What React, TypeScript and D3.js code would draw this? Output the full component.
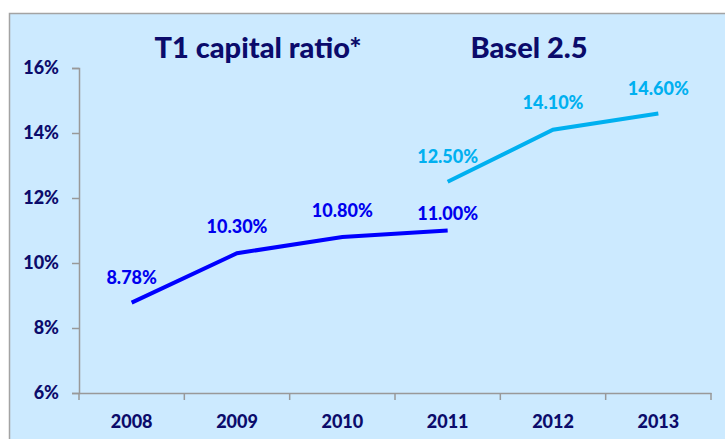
import React, { useEffect, useRef } from "react";
import * as d3 from "d3";

const years = ["2008", "2009", "2010", "2011", "2012", "2013"];
const t1Years = ["2008", "2009", "2010", "2011"];
const t1Values = [8.78, 10.3, 10.8, 11.0];
const baselYears = ["2011", "2012", "2013"];
const baselValues = [12.5, 14.1, 14.6];
const yTicks = [6, 8, 10, 12, 14, 16];

const W = 725;
const H = 439;
const FONT = "Lato, 'Open Sans', sans-serif";
const NAVY = "#0b0b6b";

const App = () => {
  const svgRef = useRef<SVGSVGElement>(null);

  useEffect(() => {
    const svg = d3.select(svgRef.current);
    svg.selectAll("*").remove();

    const margin = { top: 68, right: 14, bottom: 46, left: 79 };

    // fondo y borde
    svg
      .append("rect")
      .attr("x", 9.5)
      .attr("y", 13.5)
      .attr("width", W + 20)
      .attr("height", H + 20)
      .attr("fill", "#cceaff")
      .attr("stroke", "#a3a3a3")
      .attr("stroke-width", 1.5);

    const x = d3
      .scaleBand()
      .domain(years)
      .range([margin.left, W - margin.right]);
    const y = d3
      .scaleLinear()
      .domain([6, 16])
      .range([H - margin.bottom, margin.top]);

    // eje Y
    const gy = svg
      .append("g")
      .attr("transform", `translate(${margin.left},0)`)
      .call(
        d3
          .axisLeft(y)
          .tickValues(yTicks)
          .tickFormat((d) => `${d}%`)
          .tickSizeOuter(0)
          .tickSize(7)
          .tickPadding(13)
      );
    gy.selectAll("line").attr("stroke", "#999").attr("stroke-width", 1.5);
    gy.select(".domain").attr("stroke", "#999").attr("stroke-width", 1.5);
    gy.selectAll("text")
      .attr("fill", NAVY)
      .style("font-family", FONT)
      .style("font-weight", "900")
      .style("font-size", "18px");

    // eje X
    const gx = svg
      .append("g")
      .attr("transform", `translate(0,${H - margin.bottom})`)
      .call(d3.axisBottom(x).tickSize(0).tickSizeOuter(0).tickPadding(22));
    gx.select(".domain").attr("stroke", "#999").attr("stroke-width", 1.5);
    gx.selectAll("text")
      .attr("fill", NAVY)
      .style("font-family", FONT)
      .style("font-weight", "900")
      .style("font-size", "18px");
    const bounds = years.map((d) => x(d)!).concat([x.range()[1]]);
    gx.selectAll(".sep")
      .data(bounds)
      .enter()
      .append("line")
      .attr("x1", (d) => d)
      .attr("x2", (d) => d)
      .attr("y1", 0)
      .attr("y2", 7)
      .attr("stroke", "#999")
      .attr("stroke-width", 1.5);

    const cx = (d: string) => x(d)! + x.bandwidth() / 2;

    const drawSeries = (
      cats: string[],
      vals: number[],
      lineColor: string,
      textColor: string,
      offsets: number[]
    ) => {
      const pts = cats.map((c, i) => [cx(c), y(vals[i])] as [number, number]);
      svg
        .append("path")
        .attr("d", d3.line()(pts))
        .attr("fill", "none")
        .attr("stroke", lineColor)
        .attr("stroke-width", 4);
      svg
        .selectAll(null)
        .data(pts)
        .enter()
        .append("text")
        .attr("x", (d) => d[0])
        .attr("y", (d, i) => d[1] - offsets[i])
        .attr("text-anchor", "middle")
        .attr("fill", textColor)
        .style("font-family", FONT)
        .style("font-weight", "900")
        .style("font-size", "18px")
        .text((d, i) => `${vals[i].toFixed(2)}%`);
    };

    drawSeries(t1Years, t1Values, "#0000ff", "#0000ee", [19, 20, 20, 11]);
    drawSeries(baselYears, baselValues, "#00b0f0", "#00b0f0", [19, 21, 19]);

    // títulos
    svg
      .append("text")
      .attr("x", 258)
      .attr("y", 58)
      .attr("text-anchor", "middle")
      .attr("fill", NAVY)
      .style("font-family", FONT)
      .style("font-weight", "900")
      .style("font-size", "29px")
      .text("T1 capital ratio*");
    svg
      .append("text")
      .attr("x", 529)
      .attr("y", 58)
      .attr("text-anchor", "middle")
      .attr("fill", NAVY)
      .style("font-family", FONT)
      .style("font-weight", "900")
      .style("font-size", "29px")
      .text("Basel 2.5");
  }, []);

  return (
    <svg
      ref={svgRef}
      width={W}
      height={H}
      style={{ position: "absolute", left: 0, top: 0, background: "#fff" }}
    />
  );
};

export default App;
